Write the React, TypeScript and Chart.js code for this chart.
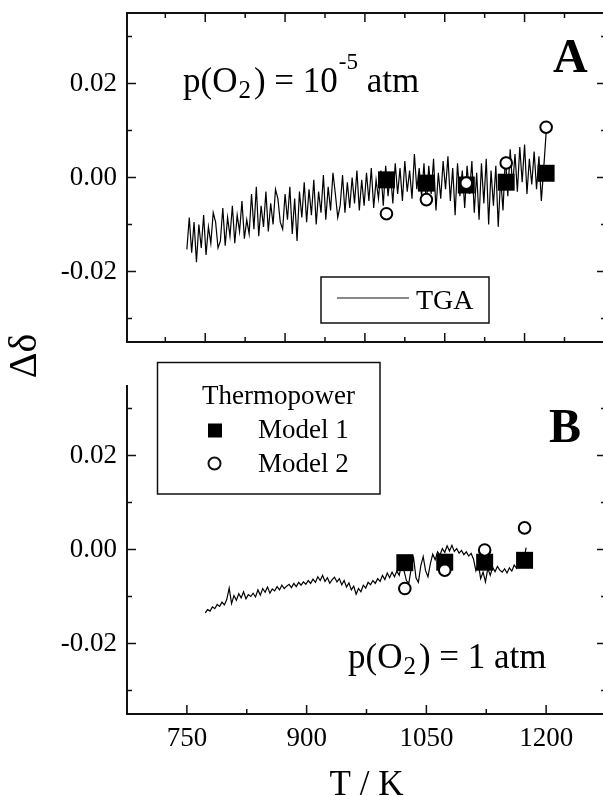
import React, { useEffect, useRef } from "react";
import { Chart, registerables } from "chart.js";

Chart.register(...registerables);

const FONT = "'Liberation Serif', 'Times New Roman', Times, serif";

// Axis ranges and ticks
const X_MIN = 675;
const X_MAX = 1275;
const Y_MIN = -0.035;
const Y_MAX = 0.035;
const X_TICKS = [750, 900, 1050, 1200];
const X_MINOR = [675, 825, 975, 1125, 1275];
const A_FRAME_MAJOR = [773, 873, 973, 1073, 1173];
const A_FRAME_MINOR = [723, 823, 923, 1023, 1123, 1223];
const Y_TICKS = [-0.02, 0, 0.02];
const Y_MINOR = [-0.03, -0.01, 0.01, 0.03];

// TGA curves (sampled every 3 K)
const TGA_STEP = 3;
const TGA_A_START = 750;
const TGA_A = [
  -0.0153, -0.0085, -0.016, -0.0095, -0.018, -0.01, -0.015, -0.008, -0.0165, -0.0105,
  -0.014, -0.0075, -0.0095, -0.015, -0.0135, -0.0065, -0.0145, -0.0085, -0.0125, -0.006,
  -0.014, -0.008, -0.0115, -0.005, -0.013, -0.009, -0.012, -0.0035, -0.011, -0.002,
  -0.0125, -0.006, -0.0105, -0.003, -0.0115, -0.0055, -0.01, -0.0025, -0.0045, -0.0095,
  -0.011, -0.0035, -0.009, -0.002, -0.012, -0.0045, -0.0135, -0.003, -0.0085, -0.001,
  -0.0095, -0.0025, -0.008, -0.0005, -0.01, -0.003, -0.0075, 0.0005, -0.009, -0.002,
  -0.007, 0.001, -0.0035, -0.0085, -0.006, 0.0005, -0.0075, -0.001, -0.0065, 0.0,
  -0.0055, 0.0015, -0.007, -0.0005, -0.006, 0.001, -0.005, 0.002, -0.0065, -0.0005,
  -0.0045, 0.0015, -0.006, 0.0025, -0.004, 0.001, -0.0055, 0.003, -0.0035, 0.002,
  -0.005, 0.0035, -0.003, 0.0015, -0.0045, 0.005, -0.0025, 0.002, -0.004, 0.003,
  -0.006, 0.0025, -0.0035, 0.004, -0.007, 0.001, -0.0045, 0.0035, -0.0025, 0.0045,
  -0.005, 0.002, -0.008, 0.003, -0.004, 0.0015, -0.0065, 0.0025, -0.0035, 0.0035,
  -0.0075, 0.001, -0.009, 0.003, -0.0055, 0.004, -0.01, 0.0015, -0.006, 0.0025,
  -0.0105, 0.0, -0.007, 0.0045, -0.004, 0.006, -0.002, 0.005, -0.003, 0.0065,
  -0.001, 0.007, -0.0035, 0.004, -0.0015, 0.0055, -0.0025, 0.0045, -0.005, 0.002,
  0.0095,
];
const TGA_B_START = 773;
const TGA_B = [
  -0.0135, -0.0128, -0.0131, -0.0122, -0.0126, -0.0117, -0.0121, -0.0112, -0.0118, -0.0106,
  -0.0082, -0.0115, -0.0098, -0.0108, -0.0094, -0.0103, -0.009, -0.0105, -0.0096, -0.01,
  -0.0093, -0.0101, -0.0086, -0.0097, -0.0083, -0.0091, -0.008, -0.0093, -0.0084, -0.0088,
  -0.0079, -0.0086, -0.0076, -0.0083, -0.0078, -0.0074, -0.0081, -0.0072, -0.0079, -0.007,
  -0.0076, -0.0069, -0.0074, -0.0066, -0.0072, -0.0063, -0.007, -0.0058, -0.0066, -0.0055,
  -0.0068, -0.006, -0.0072, -0.0064, -0.0059, -0.0069, -0.0062, -0.0075, -0.0066, -0.008,
  -0.0071, -0.0086, -0.0078, -0.0095, -0.0083, -0.009, -0.0076, -0.0082, -0.007, -0.0075,
  -0.0066, -0.0072, -0.0062, -0.0068, -0.0055, -0.0064, -0.005, -0.006, -0.0048, -0.0058,
  -0.0046, -0.0055, -0.003, -0.0045, -0.0066, -0.0072, -0.004, -0.0018, -0.006, -0.007,
  -0.0035, -0.0015, -0.0045, -0.0058, -0.003, -0.001, -0.0022, -0.0005, -0.0012, 0.0002,
  -0.0006, 0.0008, -0.0003, 0.0009, -0.0004, 0.0002, -0.0008, -0.0002, -0.0011, -0.0005,
  -0.0014, -0.0008, -0.002, -0.0045, -0.003, -0.0062, -0.0048, -0.0069, -0.004, -0.0055,
  -0.0038, -0.0047, -0.0036, -0.0044, -0.0048, -0.0041, -0.005, -0.0039, -0.0046, -0.0033,
  -0.004, -0.0028, -0.0034, -0.0022, 0.0004,
];

// Thermopower points
const MODEL_A_T = [1000, 1050, 1100, 1150, 1200];
const MODEL1_A = [-0.0005, -0.0012, -0.0016, -0.001, 0.0009];
const MODEL2_A = [-0.0077, -0.0047, -0.0012, 0.0031, 0.0107];
const MODEL_B_T = [1023, 1073, 1123, 1173];
const MODEL1_B = [-0.0028, -0.0027, -0.0027, -0.0023];
const MODEL2_B = [-0.0083, -0.0044, -0.0001, 0.0046];

const CANVAS_W = 620;
const A_TOP = 0;
const A_H = 360;
const B_TOP = 300;
const B_H = 510;

type FrameCfg = {
  top: boolean;
  xMajor: number[];
  xMinor: number[];
};

function drawFrame(chart: any, cfg: FrameCfg) {
  const { ctx, chartArea: ca } = chart;
  const x = chart.scales.x;
  const y = chart.scales.y;
  const MAJ = 9;
  const MIN = 5;
  ctx.save();
  ctx.strokeStyle = "#111";
  ctx.lineWidth = 2;
  ctx.beginPath();
  ctx.moveTo(ca.left, ca.top);
  ctx.lineTo(ca.left, ca.bottom + 1);
  ctx.moveTo(ca.left - 1, ca.bottom);
  ctx.lineTo(ca.right + 1, ca.bottom);
  ctx.moveTo(ca.right, ca.top);
  ctx.lineTo(ca.right, ca.bottom);
  if (cfg.top) {
    ctx.moveTo(ca.left - 1, ca.top);
    ctx.lineTo(ca.right + 1, ca.top);
  }
  ctx.stroke();
  ctx.lineWidth = 1.5;
  ctx.beginPath();
  const yTick = (v: number, len: number) => {
    const py = y.getPixelForValue(v);
    ctx.moveTo(ca.left, py);
    ctx.lineTo(ca.left + len, py);
    ctx.moveTo(ca.right, py);
    ctx.lineTo(ca.right - len, py);
  };
  Y_TICKS.forEach((v) => yTick(v, MAJ));
  Y_MINOR.forEach((v) => yTick(v, MIN));
  const xTick = (v: number, len: number) => {
    const px = x.getPixelForValue(v);
    ctx.moveTo(px, ca.bottom);
    ctx.lineTo(px, ca.bottom - len);
    if (cfg.top) {
      ctx.moveTo(px, ca.top);
      ctx.lineTo(px, ca.top + len);
    }
  };
  cfg.xMajor.forEach((v) => xTick(v, MAJ));
  cfg.xMinor.forEach((v) => xTick(v, MIN));
  ctx.stroke();
  ctx.restore();
}

function drawPO2(ctx: CanvasRenderingContext2D, x0: number, base: number, tail: string, sup: string | null, tail2: string) {
  ctx.save();
  ctx.fillStyle = "#000";
  ctx.textBaseline = "alphabetic";
  ctx.textAlign = "left";
  const main = `35px ${FONT}`;
  const small = `25px ${FONT}`;
  let x = x0;
  ctx.font = main;
  ctx.fillText("p(O", x, base);
  x += ctx.measureText("p(O").width + 1;
  ctx.font = small;
  ctx.fillText("2", x, base + 6);
  x += ctx.measureText("2").width + 3;
  ctx.font = main;
  ctx.fillText(tail, x, base);
  x += ctx.measureText(tail).width;
  if (sup) {
    ctx.font = `23px ${FONT}`;
    ctx.fillText(sup, x + 1, base - 23);
    x += ctx.measureText(sup).width + 1;
  }
  ctx.font = main;
  ctx.fillText(tail2, x, base);
  ctx.restore();
}

function makeDatasets(tStart: number, tga: number[], mt: number[], m1: number[], m2: number[]) {
  return [
    {
      label: "Model 2",
      data: mt.map((t, i) => ({ x: t, y: m2[i] })),
      showLine: false,
      pointStyle: "circle",
      pointRadius: 5.8,
      pointBorderWidth: 2,
      pointBackgroundColor: "#fff",
      pointBorderColor: "#000",
    },
    {
      label: "Model 1",
      data: mt.map((t, i) => ({ x: t, y: m1[i] })),
      showLine: false,
      pointStyle: "rect",
      pointRadius: 12,
      pointBorderWidth: 0,
      pointBackgroundColor: "#000",
      pointBorderColor: "#000",
    },
    {
      label: "TGA",
      data: tga.map((v, i) => ({ x: tStart + i * TGA_STEP, y: v })),
      showLine: true,
      borderColor: "#000",
      borderWidth: 1.2,
      pointRadius: 0,
      tension: 0,
      fill: false,
    },
  ];
}

function yScale() {
  return {
    type: "linear",
    min: Y_MIN,
    max: Y_MAX,
    grid: { display: false, drawTicks: false, tickLength: 0 },
    border: { display: false },
    ticks: {
      font: { family: FONT, size: 27 },
      color: "#000",
      padding: 10,
      callback: (v: any) => Number(v).toFixed(2),
    },
    afterBuildTicks: (s: any) => {
      s.ticks = Y_TICKS.map((v) => ({ value: v }));
    },
    afterFit: (s: any) => {
      s.width = 127;
      s.paddingTop = 0;
      s.paddingBottom = 0;
      s.paddingLeft = 0;
      s.paddingRight = 0;
    },
  };
}

export default function App() {
  const refA = useRef<HTMLCanvasElement | null>(null);
  const refB = useRef<HTMLCanvasElement | null>(null);

  useEffect(() => {
    const framePluginA = {
      id: "frameA",
      afterDraw(chart: any) {
        drawFrame(chart, { top: true, xMajor: A_FRAME_MAJOR, xMinor: A_FRAME_MINOR });
        const ctx = chart.ctx as CanvasRenderingContext2D;
        drawPO2(ctx, 183, 92, ") = 10", "-5", " atm");
        ctx.save();
        ctx.fillStyle = "#000";
        ctx.font = `bold 48px ${FONT}`;
        ctx.fillText("A", 553, 72);
        // TGA legend
        ctx.strokeStyle = "#111";
        ctx.lineWidth = 1.5;
        ctx.strokeRect(321, 277, 168, 46);
        ctx.lineWidth = 1.2;
        ctx.beginPath();
        ctx.moveTo(337, 298);
        ctx.lineTo(409, 298);
        ctx.stroke();
        ctx.font = `28px ${FONT}`;
        ctx.fillText("TGA", 416, 309);
        ctx.restore();
      },
    };
    const off = B_TOP;
    const framePluginB = {
      id: "frameB",
      afterDraw(chart: any) {
        drawFrame(chart, { top: false, xMajor: X_TICKS, xMinor: X_MINOR });
        const ctx = chart.ctx as CanvasRenderingContext2D;
        drawPO2(ctx, 348, 668 - off, ") = 1 atm", null, "");
        ctx.save();
        ctx.fillStyle = "#000";
        ctx.font = `bold 48px ${FONT}`;
        ctx.fillText("B", 549, 442 - off);
        // Thermopower legend
        ctx.strokeStyle = "#111";
        ctx.lineWidth = 1.5;
        ctx.strokeRect(157.5, 362.5 - off, 222.5, 131.5);
        ctx.font = `27px ${FONT}`;
        ctx.fillText("Thermopower", 202, 404 - off);
        ctx.fillText("Model 1", 258, 438 - off);
        ctx.fillText("Model 2", 258, 471.5 - off);
        ctx.fillRect(208, 423.5 - off, 14, 14);
        ctx.lineWidth = 2;
        ctx.fillStyle = "#fff";
        ctx.beginPath();
        ctx.arc(214.5, 463.5 - off, 6, 0, Math.PI * 2);
        ctx.fill();
        ctx.stroke();
        // shared y-axis title
        ctx.fillStyle = "#000";
        ctx.translate(25, 356 - off);
        ctx.rotate(-Math.PI / 2);
        ctx.textAlign = "center";
        ctx.textBaseline = "middle";
        ctx.font = `40px ${FONT}`;
        ctx.fillText("Δδ", 0, 0);
        ctx.restore();
      },
    };

    const chartA = new Chart(refA.current as HTMLCanvasElement, {
      type: "line",
      data: { datasets: makeDatasets(TGA_A_START, TGA_A, MODEL_A_T, MODEL1_A, MODEL2_A) as any },
      options: {
        animation: false,
        responsive: false,
        events: [],
        layout: { padding: { top: 13, right: CANVAS_W - 606, bottom: A_H - 342, left: 0 } },
        plugins: { legend: { display: false }, tooltip: { enabled: false } },
        scales: {
          x: { type: "linear", min: X_MIN, max: X_MAX, display: false },
          y: yScale() as any,
        },
      },
      plugins: [framePluginA],
    });

    const chartB = new Chart(refB.current as HTMLCanvasElement, {
      type: "line",
      data: { datasets: makeDatasets(TGA_B_START, TGA_B, MODEL_B_T, MODEL1_B, MODEL2_B) as any },
      options: {
        animation: false,
        responsive: false,
        events: [],
        layout: { padding: { top: 385 - B_TOP, right: CANVAS_W - 606, bottom: 0, left: 0 } },
        plugins: { legend: { display: false }, tooltip: { enabled: false } },
        scales: {
          x: {
            type: "linear",
            min: X_MIN,
            max: X_MAX,
            grid: { display: false, drawTicks: false, tickLength: 0 },
            border: { display: false },
            ticks: {
              font: { family: FONT, size: 27 },
              color: "#000",
              padding: 9,
              maxRotation: 0,
              autoSkip: false,
              callback: (v: any) => String(v),
            },
            title: {
              display: true,
              text: "T / K",
              color: "#000",
              font: { family: FONT, size: 35, lineHeight: 1.2 },
              padding: { top: 0, bottom: 3 },
            },
            afterBuildTicks: (s: any) => {
              s.ticks = X_TICKS.map((v) => ({ value: v }));
            },
            afterFit: (s: any) => {
              s.height = B_TOP + B_H - 714;
              s.paddingLeft = 0;
              s.paddingRight = 0;
              s.paddingTop = 0;
              s.paddingBottom = 0;
            },
          } as any,
          y: yScale() as any,
        },
      },
      plugins: [framePluginB],
    });

    return () => {
      chartA.destroy();
      chartB.destroy();
    };
  }, []);

  return (
    <div
      style={{
        position: "fixed",
        left: 0,
        top: 0,
        width: 603,
        height: 796,
        overflow: "hidden",
        background: "#fff",
      }}
    >
      <canvas
        ref={refA}
        width={CANVAS_W}
        height={A_H}
        style={{ position: "absolute", left: 0, top: A_TOP, width: CANVAS_W, height: A_H }}
      />
      <canvas
        ref={refB}
        width={CANVAS_W}
        height={B_H}
        style={{ position: "absolute", left: 0, top: B_TOP, width: CANVAS_W, height: B_H }}
      />
    </div>
  );
}
